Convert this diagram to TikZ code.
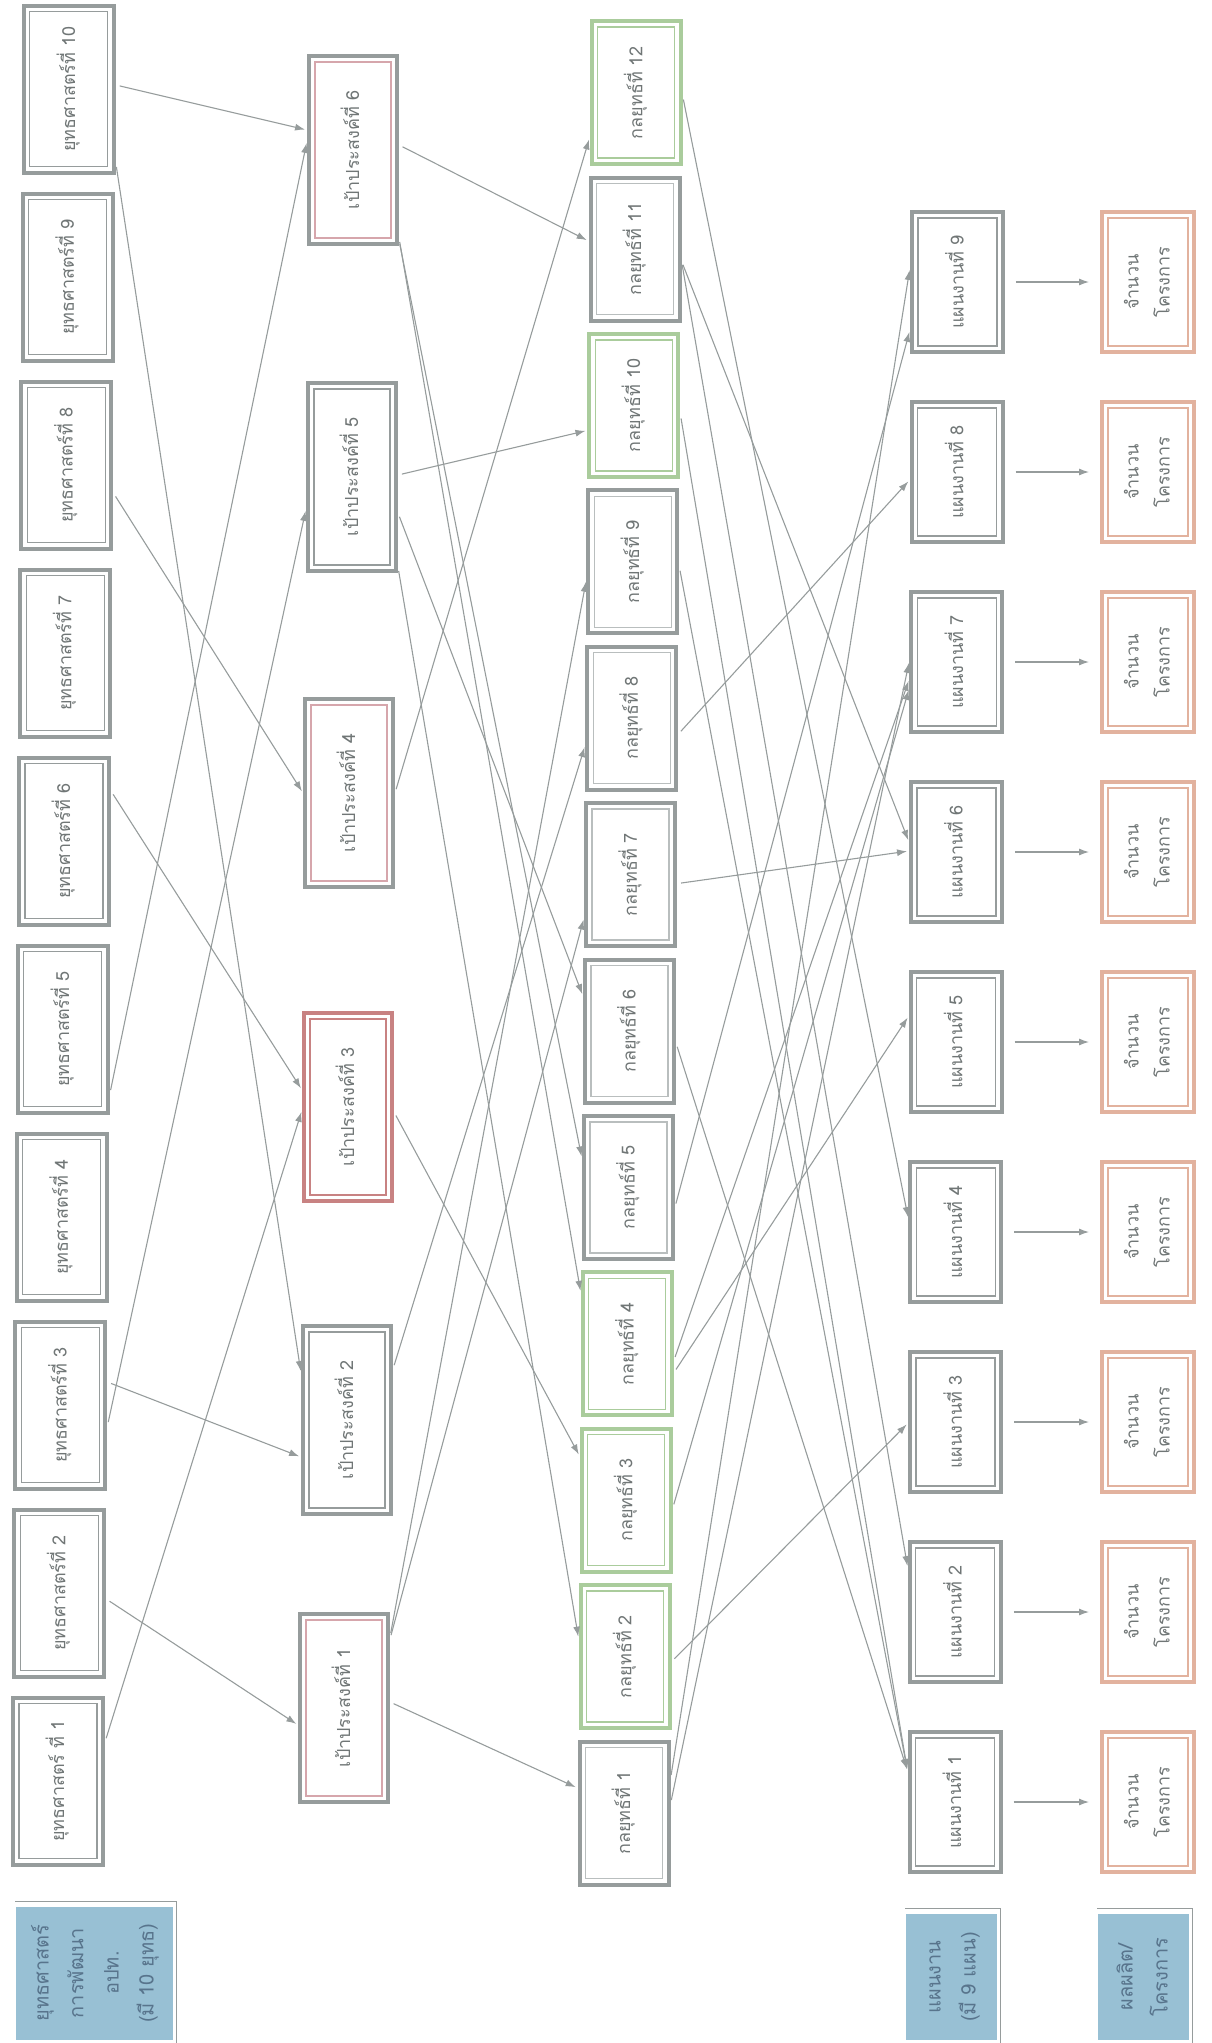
\documentclass[tikz,border=0pt]{standalone}
\usepackage{fontspec}
\usepackage{graphicx}
\newfontfamily\thaifont[Script=Thai]{Loma}
\usetikzlibrary{arrows.meta}
\definecolor{framegray}{RGB}{150,156,156}
\definecolor{innergray}{RGB}{185,190,190}
\definecolor{linkgray}{RGB}{150,156,156}
\definecolor{rosy}{RGB}{214,166,172}
\definecolor{brick}{RGB}{200,130,130}
\definecolor{sage}{RGB}{170,204,156}
\definecolor{salmon}{RGB}{226,178,158}
\definecolor{steel}{RGB}{152,192,212}
\definecolor{inkgray}{RGB}{112,118,118}
\definecolor{inkblue}{RGB}{88,116,140}

\newcommand{\vtext}[1]{\rotatebox{90}{\begin{tabular}{@{}c@{}}#1\end{tabular}}}

\tikzset{
  frame/.style 2 args={draw=#1, line width=4pt, inner sep=0pt, text=inkgray,
    font=\thaifont\fontsize{18}{31}\selectfont,
    path picture={\draw[draw=#2, line width=1.3pt]
      ([shift={(6pt,6pt)}]path picture bounding box.south west) rectangle
      ([shift={(-6pt,-6pt)}]path picture bounding box.north east);}},
  strat/.style={frame={framegray}{framegray}, minimum width=90pt, minimum height=167pt},
  goal/.style 2 args={frame={#1}{#2}, minimum width=88pt, minimum height=188pt},
  tactic/.style 2 args={frame={#1}{#2}, minimum width=89pt, minimum height=143pt},
  plan/.style={frame={framegray}{framegray}, minimum width=91pt, minimum height=140pt},
  count/.style={frame={salmon}{salmon}, minimum width=92pt, minimum height=140pt},
  key/.style={fill=steel, text=inkblue, inner sep=0pt,
    font=\thaifont\fontsize{20}{35}\selectfont},
  keyline/.style={draw=framegray, line width=0.8pt}
}

\begin{document}
\begin{tikzpicture}[x=1pt, y=-1pt,
  link/.style={draw=linkgray, line width=1.1pt, -{Latex[length=10pt,width=7pt]},
    shorten <=4pt, shorten >=2pt}]
\useasboundingbox (0,0) rectangle (1211,2043);

\node[strat] (s1) at (58,1781) {\vtext{ยุทธศาสตร์ ที่ 1}};
\foreach \i in {2,...,10}
  \node[strat] (s\i) at ({58+1.2*(\i-1)},{1781-188*(\i-1)}) {\vtext{ยุทธศาสตร์ที่ \i}};

\foreach \i/\x/\y/\o/\c in {1/344/1708/framegray/rosy, 2/347/1420/framegray/framegray,
    3/348/1107/brick/brick, 4/349/793/framegray/rosy, 5/352/477/framegray/framegray,
    6/353/150/framegray/rosy}
  \node[goal={\o}{\c}] (g\i) at (\x,\y) {\vtext{เป้าประสงค์ที่ \i}};

\foreach \i/\o/\c in {1/framegray/innergray, 2/sage/sage, 3/sage/sage, 4/sage/sage,
    5/framegray/innergray, 6/framegray/innergray, 7/framegray/innergray,
    8/framegray/innergray, 9/framegray/innergray, 10/sage/sage,
    11/framegray/innergray, 12/sage/sage}
  \node[tactic={\o}{\c}] (t\i) at ({624+1.1*(\i-1)},{1813-156.4*(\i-1)}) {\vtext{กลยุทธ์ที่ \i}};

\foreach \i in {1,...,9} {
  \node[plan] (p\i) at ({955+0.3*(\i-1)},{1802-190*(\i-1)}) {\vtext{แผนงานที่ \i}};
  \node[count] (n\i) at (1148,{1802-190*(\i-1)}) {\vtext{จำนวน\\โครงการ}};
  \draw[link, shorten <=11pt, shorten >=11pt] (p\i.east) -- (n\i.west);
}

\node[key, minimum width=157pt, minimum height=133pt] (k1) at (94,1973)
  {\vtext{ยุทธศาสตร์\\การพัฒนา\\อปท.\\(มี 10 ยุทธ)}};
\node[key, minimum width=91pt, minimum height=126pt] (k2) at (951,1977)
  {\vtext{แผนงาน\\(มี 9 แผน)}};
\node[key, minimum width=91pt, minimum height=126pt] (k3) at (1143,1977)
  {\vtext{ผลผลิต/\\โครงการ}};
\foreach \k in {k1,k2,k3}
  \draw[keyline] ([yshift=5pt]\k.north west) -| ([xshift=4pt,yshift=-4pt]\k.south east);

\foreach \a/\da/\b/\db in {s10/4/g6/20, s10/-74/g2/47, s8/-28/g4/0, s6/50/g3/17,
    s5/-65/g6/9, s3/-21/g5/-32, s3/23/g2/-37, s2/-6/g1/-17, s1/39/g3/-3}
  \draw[link] ([yshift=\da pt]\a.east) -- ([yshift=\db pt]\b.west);

\foreach \a/\da/\b/\db in {g6/5/t11/8, g6/-90/t5/29, g6/-88/t4/51, g5/2/t10/-25,
    g5/-36/t6/35, g5/-90/t2/18, g4/0/t12/-45, g3/-5/t3/44, g2/51/t8/-27,
    g1/71/t9/-18, g1/69/t7/-43, g1/6/t1/25}
  \draw[link] ([yshift=\da pt]\a.east) -- ([yshift=\db pt]\b.west);

\foreach \a/\da/\b/\db in {t12/-3/p4/13, t11/-12/p6/10, t11/-12/p2/44, t10/-9/p1/31,
    t9/-5/p1/31, t6/-12/p1/31, t8/-16/p8/-8, t7/-9/p6/1, t5/-20/p9/-48,
    t4/-17/p7/-17, t4/-29/p5/26, t3/-8/p7/-26, t2/-5/p3/-1, t1/34/p9/14, t1/9/p7/1}
  \draw[link] ([yshift=\da pt]\a.east) -- ([yshift=\db pt]\b.west);
\end{tikzpicture}
\end{document}
